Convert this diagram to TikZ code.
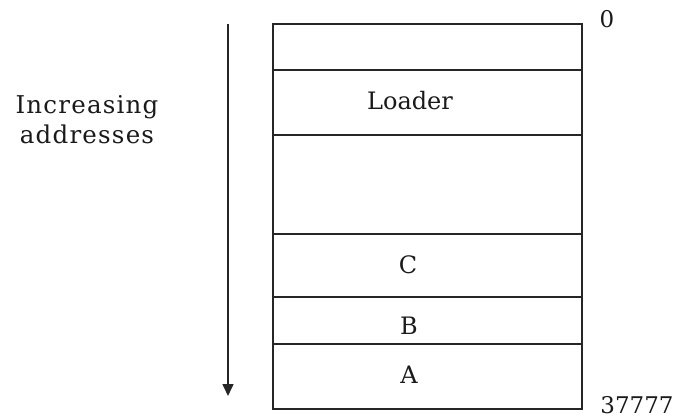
\documentclass[tikz,border=0pt]{standalone}
\usepackage{fontspec}
\setmainfont{DejaVu Serif}
\usetikzlibrary{arrows.meta}
\definecolor{ink}{HTML}{262626}
\definecolor{textink}{HTML}{1A1A1A}
\begin{document}
\begin{tikzpicture}[x=1pt,y=-1pt,
  cell/.style={draw=ink,line width=1.5pt,minimum width=309pt,inner sep=0pt,anchor=north west},
  lbl/.style={text=textink,font=\fontsize{24}{30}\selectfont,inner sep=0pt},
  num/.style={text=textink,font=\fontsize{23}{30}\selectfont,inner sep=0pt},
  side/.style={text=textink,font=\fontsize{24.5}{30}\selectfont\addfontfeatures{LetterSpace=5},inner sep=0pt,anchor=base}]
\useasboundingbox (0,0) rectangle (677,418);
% memory cells (top to bottom)
\node[cell,minimum height=46pt] (c0) at (272,23) {};
\node[cell,minimum height=65pt] (c1) at (272,69) {};
\node[cell,minimum height=99pt] (c2) at (272,134) {};
\node[cell,minimum height=63pt] (c3) at (272,233) {};
\node[cell,minimum height=47pt] (c4) at (272,296) {};
\node[cell,minimum height=65pt] (c5) at (272,343) {};
% labels
\node[lbl] (loader) at (410,101) {Loader};
\node[lbl] (lc) at (408,265) {C};
\node[lbl] (lb) at (409,326) {B};
\node[lbl] (la) at (409,375) {A};
\node[num] (zero) at (607,19) {0};
\node[num] (top) at (637,405) {37777};
% side text
\node[side] (inc) at (87,113) {Increasing};
\node[side] (addr) at (87,143) {addresses};
% arrow
\coordinate (astart) at (228,24);
\coordinate (aend) at (228,396);
\draw[ink,line width=1.5pt,-{Triangle[width=11pt,length=12pt]}] (astart) -- (aend);
\end{tikzpicture}
\end{document}
